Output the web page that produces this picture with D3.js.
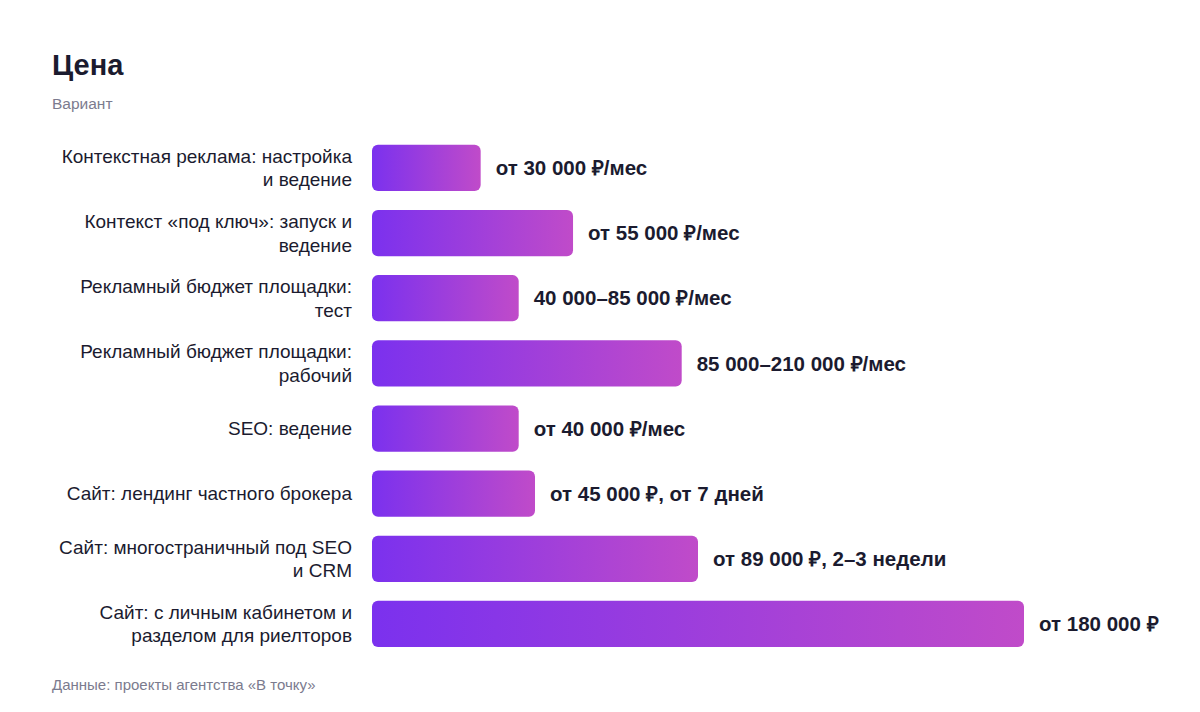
<!DOCTYPE html>
<html>
<head>
<meta charset="utf-8">
<script src="https://cdn.jsdelivr.net/npm/d3@7"></script>
<style>
  body { margin: 0; background: #fff; }
  svg text { font-family: "Liberation Sans", Arial, Helvetica, sans-serif; }
</style>
</head>
<body>
<svg id="chart"></svg>
<script>
const width = 1200
const height = 712

// data ("\n" marks where the label wraps)
const categories = [
  'Контекстная реклама: настройка\nи ведение',
  'Контекст «под ключ»: запуск и\nведение',
  'Рекламный бюджет площадки:\nтест',
  'Рекламный бюджет площадки:\nрабочий',
  'SEO: ведение',
  'Сайт: лендинг частного брокера',
  'Сайт: многостраничный под SEO\nи CRM',
  'Сайт: с личным кабинетом и\nразделом для риелторов'
]
const prices = [30000, 55500, 40500, 85500, 40500, 45000, 90000, 180000]
const priceLabels = [
  'от 30 000 ₽/мес',
  'от 55 000 ₽/мес',
  '40 000–85 000 ₽/мес',
  '85 000–210 000 ₽/мес',
  'от 40 000 ₽/мес',
  'от 45 000 ₽, от 7 дней',
  'от 89 000 ₽, 2–3 недели',
  'от 180 000 ₽'
]

const data = categories.map((c, i) => ({ cat: c, value: prices[i], label: priceLabels[i] }))

const svg = d3.select('#chart')
  .attr('width', width)
  .attr('height', height)

const defs = svg.append('defs')
const grad = defs.append('linearGradient')
  .attr('id', 'barGrad')
  .attr('x1', '0%').attr('x2', '100%')
  .attr('y1', '0%').attr('y2', '0%')
grad.append('stop').attr('offset', '0%').attr('stop-color', '#7b31ee')
grad.append('stop').attr('offset', '100%').attr('stop-color', '#c04bc9')

const x = d3.scaleLinear()
  .domain([0, d3.max(prices)])
  .range([372, 1024])

const y = d3.scaleBand()
  .domain(categories)
  .range([135.4, 656.5])
  .paddingInner(0.29)
  .paddingOuter(0.145)

// title
svg.append('text')
  .attr('x', 52).attr('y', 75)
  .attr('font-size', 29).attr('font-weight', 700)
  .attr('fill', '#1b1b2f')
  .text('Цена')

svg.append('text')
  .attr('x', 52).attr('y', 108.5)
  .attr('font-size', 15.5)
  .attr('fill', '#7b7b8e')
  .text('Вариант')

// bars
svg.append('g').selectAll('rect')
  .data(data)
  .enter().append('rect')
    .attr('x', x(0))
    .attr('y', d => y(d.cat))
    .attr('width', d => x(d.value) - x(0))
    .attr('height', y.bandwidth())
    .attr('rx', 6)
    .attr('fill', 'url(#barGrad)')

// value labels
svg.append('g').selectAll('text')
  .data(data)
  .enter().append('text')
    .attr('x', d => x(d.value) + 15)
    .attr('y', d => y(d.cat) + y.bandwidth() / 2)
    .attr('dy', '0.35em')
    .attr('font-size', 20.5)
    .attr('font-weight', 700)
    .attr('fill', '#1b1b2f')
    .text(d => d.label)

// category labels
const lh = 23.5
svg.append('g').selectAll('text')
  .data(data)
  .enter().append('text')
    .attr('text-anchor', 'end')
    .attr('font-size', 19)
    .attr('fill', '#1b1b2f')
    .each(function (d) {
      const lines = d.cat.split('\n')
      const cy = y(d.cat) + y.bandwidth() / 2
      const y0 = cy - (lines.length - 1) * lh / 2
      d3.select(this).selectAll('tspan')
        .data(lines)
        .enter().append('tspan')
          .attr('x', 352)
          .attr('y', (l, i) => y0 + i * lh)
          .attr('dy', '0.35em')
          .text(l => l)
    })

// footer
svg.append('text')
  .attr('x', 52).attr('y', 690)
  .attr('font-size', 15)
  .attr('fill', '#7b7b8e')
  .text('Данные: проекты агентства «В точку»')
</script>
</body>
</html>
